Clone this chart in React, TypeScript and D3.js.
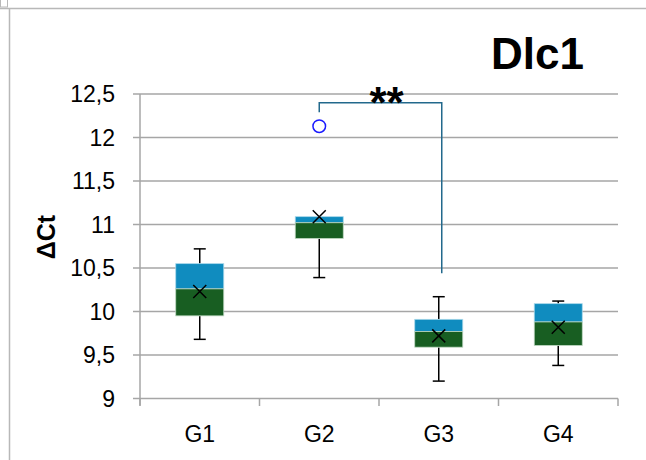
import React from "react";
import { scaleBand, scaleLinear, range } from "d3";

const groups = ["G1", "G2", "G3", "G4"];
const q1 = [9.95, 10.84, 9.59, 9.61];
const medians = [10.26, 11.02, 9.77, 9.88];
const q3 = [10.55, 11.09, 9.91, 10.09];
const whiskerLow = [9.68, 10.39, 9.2, 9.38];
const whiskerHigh = [10.72, 11.09, 10.17, 10.12];
const means = [10.23, 11.09, 9.72, 9.82];
const outliers = [{ group: "G2", value: 12.13 }];
const yTicks = [9, 9.5, 10, 10.5, 11, 11.5, 12, 12.5];

// significance bracket G2 -> G3
const bracket = { from: "G2", to: "G3", top: 12.4, leftEnd: 12.29, rightEnd: 10.44, label: "**" };

const FONT = "'Liberation Sans', Arial, sans-serif";

export default function App() {
  const width = 646;
  const height = 460;
  const margin = { top: 94, right: 28, bottom: 61.5, left: 140 };
  const innerWidth = width - margin.left - margin.right;
  const innerHeight = height - margin.top - margin.bottom;

  const xScale = scaleBand().domain(groups).range([0, innerWidth]);
  const yScale = scaleLinear().domain([9, 12.5]).range([innerHeight, 0]);
  const boxW = 48;
  const cx = (g) => xScale(g) + xScale.bandwidth() / 2;
  const fmt = (v) => String(v).replace(".", ",");

  return (
    <svg
      width={width}
      height={height}
      style={{ position: "absolute", left: 0, top: 0, background: "#fff" }}
      fontFamily={FONT}
    >
      {/* outer frame of the spreadsheet chart */}
      <line x1={0} x2={width} y1={8.5} y2={8.5} stroke="#b8b8b8" strokeWidth={1.5} />
      <line x1={9.5} x2={9.5} y1={8.5} y2={height} stroke="#b8b8b8" strokeWidth={1.5} />
      <rect x={0.5} y={-1} width={7} height={8} fill="none" stroke="#b8b8b8" />

      <text x={491} y={68.5} fontSize={44} fontWeight="bold" fill="#000">
        Dlc1
      </text>

      <text
        transform="translate(55,237) rotate(-90)"
        textAnchor="middle"
        fontSize={25}
        fontWeight="bold"
      >
        ΔCt
      </text>

      <g transform={`translate(${margin.left},${margin.top})`}>
        {yTicks.map((t) => (
          <g key={t} transform={`translate(0,${yScale(t)})`}>
            <line x1={-7} x2={innerWidth} stroke="#a6a6a6" strokeWidth={1.5} />
            <text x={-25} dy=".35em" textAnchor="end" fontSize={23} fill="#000">
              {fmt(t)}
            </text>
          </g>
        ))}
        <line x1={0} x2={0} y1={0} y2={innerHeight + 7} stroke="#a6a6a6" strokeWidth={1.5} />
        {range(groups.length + 1).map((i) => (
          <line
            key={i}
            x1={(innerWidth / groups.length) * i}
            x2={(innerWidth / groups.length) * i}
            y1={innerHeight}
            y2={innerHeight + 7.5}
            stroke="#a6a6a6"
            strokeWidth={1.5}
          />
        ))}
        {groups.map((g) => (
          <text key={g} x={cx(g)} y={innerHeight + 43} textAnchor="middle" fontSize={23}>
            {g}
          </text>
        ))}

        {groups.map((g, i) => {
          const x = cx(g);
          return (
            <g key={g}>
              <line x1={x} x2={x} y1={yScale(whiskerHigh[i])} y2={yScale(q3[i])} stroke="#000" strokeWidth={1.5} />
              <line x1={x} x2={x} y1={yScale(q1[i])} y2={yScale(whiskerLow[i])} stroke="#000" strokeWidth={1.5} />
              {whiskerHigh[i] > q3[i] && (
                <line x1={x - 6} x2={x + 6} y1={yScale(whiskerHigh[i])} y2={yScale(whiskerHigh[i])} stroke="#000" strokeWidth={1.5} />
              )}
              <line x1={x - 6} x2={x + 6} y1={yScale(whiskerLow[i])} y2={yScale(whiskerLow[i])} stroke="#000" strokeWidth={1.5} />
              <rect
                x={x - boxW / 2}
                y={yScale(q3[i])}
                width={boxW}
                height={yScale(medians[i]) - yScale(q3[i])}
                fill="#108cbf"
                stroke="#a8d8ea"
                strokeWidth={0.8}
              />
              <rect
                x={x - boxW / 2}
                y={yScale(medians[i])}
                width={boxW}
                height={yScale(q1[i]) - yScale(medians[i])}
                fill="#185e22"
                stroke="#bcd6c0"
                strokeWidth={0.8}
              />
              <path
                d={`M${x - 6.5},${yScale(means[i]) - 6.5}L${x + 6.5},${yScale(means[i]) + 6.5}M${x - 6.5},${yScale(means[i]) + 6.5}L${x + 6.5},${yScale(means[i]) - 6.5}`}
                stroke="#000"
                strokeWidth={1.5}
              />
            </g>
          );
        })}

        {outliers.map((o, i) => (
          <circle key={i} cx={cx(o.group)} cy={yScale(o.value)} r={6.3} fill="#fff" stroke="#1a1aff" strokeWidth={1.5} />
        ))}

        <path
          d={`M${cx(bracket.from)},${yScale(bracket.leftEnd)}V${yScale(bracket.top)}H${cx(bracket.to) + 3}V${yScale(bracket.rightEnd)}`}
          fill="none"
          stroke="#22698c"
          strokeWidth={1.5}
        />
        <text
          x={(cx(bracket.from) + cx(bracket.to) + 3) / 2 + 6}
          y={yScale(bracket.top) + 15}
          textAnchor="middle"
          fontSize={44}
          fontWeight="bold"
        >
          {bracket.label}
        </text>
      </g>
    </svg>
  );
}
